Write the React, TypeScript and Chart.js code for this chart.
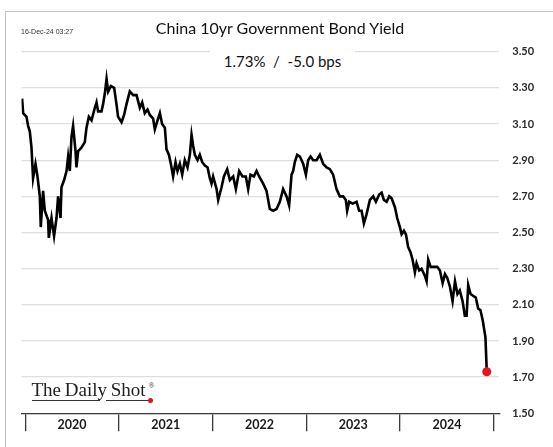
import React, { useEffect, useRef } from "react";
import { Chart, registerables } from "chart.js";

Chart.register(...registerables);

const chartTitle = "China 10yr Government Bond Yield";
const subtitleText = "1.73%  /  -5.0 bps";
const stampText = "16-Dec-24 03:27";
const logoWords = ["The Daily", "Shot"];
const yearLabels = ["2020", "2021", "2022", "2023", "2024"];
const yTickValues = [1.5, 1.7, 1.9, 2.1, 2.3, 2.5, 2.7, 2.9, 3.1, 3.3, 3.5];

// decimal years
const dates = [
  2019.967, 2019.978, 2020.014, 2020.031, 2020.049, 2020.067, 2020.084, 2020.110, 2020.131, 2020.156,
  2020.166, 2020.191, 2020.209, 2020.244, 2020.252, 2020.281, 2020.308, 2020.334, 2020.351, 2020.377,
  2020.387, 2020.415, 2020.441, 2020.458, 2020.476, 2020.494, 2020.511, 2020.537, 2020.547, 2020.565,
  2020.601, 2020.636, 2020.654, 2020.679, 2020.708, 2020.743, 2020.761, 2020.778, 2020.814, 2020.831,
  2020.850, 2020.868, 2020.885, 2020.914, 2020.949, 2020.974, 2020.991, 2021.028, 2021.055, 2021.081,
  2021.116, 2021.152, 2021.188, 2021.223, 2021.248, 2021.276, 2021.305, 2021.330, 2021.365, 2021.383,
  2021.412, 2021.437, 2021.461, 2021.490, 2021.508, 2021.533, 2021.554, 2021.578, 2021.604, 2021.625,
  2021.650, 2021.675, 2021.703, 2021.732, 2021.757, 2021.775, 2021.792, 2021.810, 2021.839, 2021.863,
  2021.888, 2021.917, 2021.946, 2021.970, 2021.988, 2022.005, 2022.042, 2022.059, 2022.095, 2022.120,
  2022.155, 2022.184, 2022.219, 2022.248, 2022.283, 2022.319, 2022.354, 2022.379, 2022.404, 2022.440,
  2022.469, 2022.496, 2022.539, 2022.575, 2022.610, 2022.646, 2022.682, 2022.717, 2022.752, 2022.789,
  2022.816, 2022.842, 2022.859, 2022.877, 2022.902, 2022.931, 2022.966, 2022.995, 2023.019, 2023.045,
  2023.073, 2023.109, 2023.144, 2023.179, 2023.216, 2023.251, 2023.286, 2023.322, 2023.357, 2023.393,
  2023.421, 2023.435, 2023.457, 2023.493, 2023.536, 2023.563, 2023.589, 2023.614, 2023.642, 2023.678,
  2023.713, 2023.742, 2023.777, 2023.803, 2023.827, 2023.856, 2023.884, 2023.909, 2023.945, 2023.969,
  2023.998, 2024.016, 2024.041, 2024.062, 2024.086, 2024.112, 2024.133, 2024.158, 2024.176, 2024.204,
  2024.229, 2024.265, 2024.283, 2024.300, 2024.326, 2024.354, 2024.397, 2024.425, 2024.454, 2024.479,
  2024.503, 2024.532, 2024.560, 2024.586, 2024.612, 2024.637, 2024.667, 2024.691, 2024.710, 2024.727,
  2024.752, 2024.778, 2024.808, 2024.833, 2024.858, 2024.883, 2024.911, 2024.925,
];

const yields = [
  3.24, 3.16, 3.14, 3.09, 3.06, 2.97, 2.80, 2.88, 2.81, 2.70,
  2.53, 2.73, 2.62, 2.57, 2.47, 2.58, 2.48, 2.58, 2.70, 2.58,
  2.75, 2.79, 2.84, 2.92, 2.84, 3.03, 3.09, 2.95, 2.86, 2.95,
  2.97, 3.00, 3.08, 3.14, 3.12, 3.19, 3.22, 3.17, 3.17, 3.21,
  3.27, 3.35, 3.28, 3.31, 3.30, 3.21, 3.14, 3.11, 3.15, 3.21,
  3.28, 3.26, 3.26, 3.19, 3.22, 3.16, 3.18, 3.15, 3.13, 3.07,
  3.12, 3.16, 3.10, 3.08, 2.96, 2.93, 2.88, 2.81, 2.89, 2.84,
  2.88, 2.82, 2.90, 2.86, 2.93, 3.04, 2.98, 2.93, 2.90, 2.93,
  2.89, 2.87, 2.86, 2.80, 2.77, 2.81, 2.74, 2.68, 2.75, 2.81,
  2.85, 2.79, 2.81, 2.74, 2.84, 2.81, 2.81, 2.74, 2.82, 2.81,
  2.84, 2.81, 2.77, 2.73, 2.63, 2.62, 2.63, 2.67, 2.74, 2.70,
  2.65, 2.82, 2.84, 2.89, 2.93, 2.92, 2.88, 2.82, 2.90, 2.92,
  2.90, 2.90, 2.93, 2.88, 2.86, 2.85, 2.82, 2.74, 2.70, 2.70,
  2.68, 2.62, 2.67, 2.66, 2.67, 2.62, 2.62, 2.55, 2.60, 2.68,
  2.70, 2.67, 2.71, 2.72, 2.68, 2.67, 2.70, 2.69, 2.64, 2.58,
  2.53, 2.49, 2.51, 2.49, 2.42, 2.39, 2.35, 2.28, 2.33, 2.29,
  2.30, 2.26, 2.23, 2.35, 2.31, 2.31, 2.31, 2.29, 2.22, 2.27,
  2.25, 2.20, 2.12, 2.23, 2.16, 2.18, 2.12, 2.04, 2.04, 2.21,
  2.16, 2.15, 2.14, 2.08, 2.07, 2.01, 1.92, 1.73,
];

const W = 553;
const H = 447;
const AREA = { left: 21.5, top: 51.7, right: 499.3, bottom: 413.3 };
const X_MIN = 2019.9605;
const X_MAX = 2025.0587;

export default function App() {
  const ref = useRef<HTMLCanvasElement>(null);

  useEffect(() => {
    document.body.style.margin = "0";
    const points = dates.map((d, i) => ({ x: d, y: yields[i] }));
    const last = points.length - 1;
    const firstYear = Number(yearLabels[0]);
    const tickVals: number[] = [];
    for (let i = 0; i <= yearLabels.length; i++) {
      tickVals.push(firstYear + i);
      if (i < yearLabels.length) tickVals.push(firstYear + i + 0.5);
    }
    const chart = new Chart(ref.current as HTMLCanvasElement, {
      type: "line",
      data: {
        datasets: [
          {
            data: points,
            borderColor: "#000000",
            borderWidth: 2.6,
            tension: 0,
            borderJoinStyle: "miter",
            pointRadius: (c: any) => (c.dataIndex === last ? 4.5 : 0),
            pointBackgroundColor: "#e3141c",
            pointBorderColor: "#e3141c",
            pointBorderWidth: 0,
          },
        ],
      },
      options: {
        animation: false,
        responsive: false,
        devicePixelRatio: 1,
        layout: { padding: { left: AREA.left, top: AREA.top, right: 0, bottom: 0 } },
        plugins: { legend: { display: false }, tooltip: { enabled: false } },
        scales: {
          x: {
            type: "linear",
            position: "bottom",
            min: X_MIN,
            max: X_MAX,
            afterBuildTicks: (s: any) => {
              s.ticks = tickVals.map((v) => ({ value: v }));
            },
            afterFit: (s: any) => {
              s.height = H - AREA.bottom;
            },
            grid: {
              drawOnChartArea: false,
              drawTicks: true,
              tickLength: 18,
              lineWidth: 1.3,
              color: (c: any) =>
                c.tick && Number.isInteger(c.tick.value) ? "#3a3a3a" : "rgba(0,0,0,0)",
            },
            border: { display: true, color: "#3a3a3a", width: 1.3 },
            ticks: {
              autoSkip: false,
              maxRotation: 0,
              minRotation: 0,
              padding: -14,
              color: "#1a1a1a",
              font: { family: "Lato", weight: "bold", size: 12.5 },
              callback: (v: any) => {
                const n = Number(v);
                if (Number.isInteger(n)) return "";
                return yearLabels[Math.floor(n) - firstYear] ?? "";
              },
            },
          },
          y: {
            position: "right",
            min: yTickValues[0],
            max: yTickValues[yTickValues.length - 1],
            afterBuildTicks: (s: any) => {
              s.ticks = yTickValues.map((v) => ({ value: v }));
            },
            afterFit: (s: any) => {
              s.width = W - AREA.right;
            },
            grid: { color: "#dedede", lineWidth: 1.3, drawTicks: false },
            border: { display: false },
            ticks: {
              padding: 13,
              color: "#2a2a2a",
              font: { family: "Lato", weight: "bold", size: 11 },
              callback: (v: any) => Number(v).toFixed(2),
            },
          },
        },
      },
    });
    return () => chart.destroy();
  }, []);

  const serif = "'Liberation Serif', 'Times New Roman', serif";

  return (
    <div style={{ position: "fixed", left: 0, top: 0, width: W, height: H, background: "#fff", overflow: "hidden" }}>
      <div
        style={{
          position: "absolute",
          left: 5,
          top: 11,
          right: 0,
          bottom: 0,
          borderTop: "1px solid #c4c4c4",
          borderLeft: "1px solid #c4c4c4",
        }}
      />
      <canvas ref={ref} width={W} height={H} style={{ position: "absolute", left: 0, top: 0, width: W, height: H }} />
      <div
        style={{
          position: "absolute",
          left: 21,
          top: 27,
          fontFamily: "'Liberation Sans', Arial, sans-serif",
          fontSize: 7,
          color: "#333",
          whiteSpace: "nowrap",
          lineHeight: "10px",
        }}
      >
        {stampText}
      </div>
      <div
        style={{
          position: "absolute",
          left: 0,
          width: 560,
          top: 18,
          textAlign: "center",
          fontFamily: "Lato, sans-serif",
          fontSize: 16,
          color: "#111",
          lineHeight: "20px",
          whiteSpace: "nowrap",
        }}
      >
        {chartTitle}
      </div>
      <div
        style={{
          position: "absolute",
          left: 210,
          width: 145,
          top: 46,
          height: 28,
          background: "#fff",
          textAlign: "center",
          fontFamily: "Lato, sans-serif",
          fontSize: 15,
          color: "#111",
          lineHeight: "30px",
          whiteSpace: "pre",
        }}
      >
        {subtitleText}
      </div>
      <div
        style={{
          position: "absolute",
          left: 31.5,
          top: 378.3,
          fontFamily: serif,
          fontSize: 19,
          color: "#222",
          lineHeight: "24px",
          whiteSpace: "nowrap",
          wordSpacing: -1,
        }}
      >
        {logoWords[0] + " " + logoWords[1]}
      </div>
      <div style={{ position: "absolute", left: 148.5, top: 381, fontFamily: serif, fontSize: 8, color: "#333", lineHeight: "10px" }}>®</div>
      <div style={{ position: "absolute", left: 32, top: 400, width: 68, height: 1.2, background: "#333" }} />
      <div style={{ position: "absolute", left: 106, top: 400, width: 44, height: 1.2, background: "#333" }} />
      <div
        style={{
          position: "absolute",
          left: 148,
          top: 398,
          width: 5.4,
          height: 5.4,
          borderRadius: "50%",
          background: "#d8141c",
        }}
      />
    </div>
  );
}
